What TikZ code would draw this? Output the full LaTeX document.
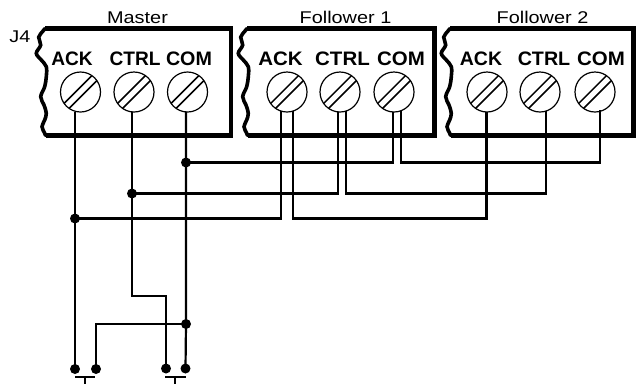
\documentclass[tikz,border=0pt]{standalone}
\usepackage{fontspec}
\setmainfont{Liberation Sans}
\usetikzlibrary{calc}
\begin{document}
\begin{tikzpicture}[x=1pt,y=-1pt,
  boxline/.style={line width=4.5pt, line join=miter},
  waveline/.style={line width=3.6pt, line cap=round},
  wire/.style={line width=2.2pt, line join=miter},
  screwc/.style={circle, draw, line width=1.2pt, minimum size=40pt, inner sep=0pt},
  slot/.style={line width=1.5pt},
  dot/.style={circle, fill, inner sep=0pt, minimum size=10pt},
  title/.style={font=\fontsize{17}{19}\selectfont, xscale=1.17, inner sep=0pt, anchor=base},
  lab/.style={font=\bfseries\fontsize{19.5}{21}\selectfont, inner sep=0pt, anchor=base},
]
\useasboundingbox (0,0) rectangle (636,384);

% ---------- boxes ----------
\foreach \xo/\xr in {46/231, 248/434.7, 451/633.7}{
  \draw[boxline] (\xo-1,28.5) -- (\xr,28.5) -- (\xr,135.5) -- (\xo-0.5,135.5);
  \draw[waveline] plot[smooth, tension=0.6] coordinates {
    (\xo-1,28.5) (\xo-3,31) (\xo-7.3,37.2) (\xo-5.3,45) (\xo-9.7,53.3) (\xo-4.7,60)
    (\xo+0.3,66.7) (\xo+0.3,76.7) (\xo-1.3,86.7) (\xo-5.3,96.7) (\xo-2,105)
    (\xo+0.3,113.3) (\xo-1.3,120) (\xo-4,126.7) (\xo-1.3,133.3) (\xo-0.5,135.5)};
}

% ---------- titles ----------
\node[title] (tj4) at (20,42) {J4};
\node[title] (tmaster) at (137.5,23) {Master};
\node[title] (tf1) at (345.5,23) {Follower 1};
\node[title] (tf2) at (542.5,23) {Follower 2};

% ---------- terminal labels ----------
\node[lab, xscale=0.98] (lmA) at (72,65.5) {ACK};
\node[lab, xscale=0.98] (lmC) at (135,65.5) {CTRL};
\node[lab, xscale=1.01] (lmM) at (189,65.5) {COM};
\node[lab, xscale=1.05] (l1A) at (280.5,65.5) {ACK};
\node[lab, xscale=1.05] (l1C) at (342.5,65.5) {CTRL};
\node[lab, xscale=1.05] (l1M) at (401,65.5) {COM};
\node[lab, xscale=1.0] (l2A) at (481,65.5) {ACK};
\node[lab, xscale=1.01] (l2C) at (544,65.5) {CTRL};
\node[lab, xscale=1.05] (l2M) at (601,65.5) {COM};

% ---------- screws ----------
\foreach \n/\x in {smA/80.5, smC/134, smM/187.5, s1A/287, s1C/340, s1M/394, s2A/487, s2C/540, s2M/595}{
  \node[screwc] (\n) at (\x,92) {};
  \draw[slot] ($(\n.center)+(16.4,-11.45)$) -- ($(\n.center)+(-11.45,16.4)$);
  \draw[slot] ($(\n.center)+(11.45,-16.4)$) -- ($(\n.center)+(-16.4,11.45)$);
}

% ---------- wire end points ----------
\coordinate (mA) at (75,111.5);
\coordinate (mC) at (132,111.5);
\coordinate (mM) at (186,111.5);
\coordinate (f1Aa) at (281,111);
\coordinate (f1Ab) at (293,111);
\coordinate (f1Ca) at (338,111.5);
\coordinate (f1Cb) at (346,111);
\coordinate (f1Ma) at (393,111.5);
\coordinate (f1Mb) at (401,111);
\coordinate (f2A) at (486.5,111.5);
\coordinate (f2C) at (546,110.5);
\coordinate (f2M) at (600,110);
\coordinate (kC) at (132,296);

% junction dots
\node[dot] (dM) at (186,162.5) {};
\node[dot] (dC) at (132,193.5) {};
\node[dot] (dA) at (75,218.5) {};
\node[dot] (dM2) at (186,324) {};
% bottom dots
\node[dot] (bA) at (75,369) {};
\node[dot] (bM2) at (96,369) {};
\node[dot] (bC) at (166,368.5) {};
\node[dot] (bM) at (185.5,368.5) {};

% ---------- wires ----------
% ACK
\draw[wire] (mA) -- (dA.center) -- (bA.center);
\draw[wire] (dA.center) -| (f1Aa);
\draw[wire] (f1Ab) -- (f1Ab |- dA) -| (f2A);
% CTRL
\draw[wire] (mC) -- (dC.center) -- (kC) -| (bC.center);
\draw[wire] (dC.center) -| (f1Ca);
\draw[wire] (f1Cb) -- (f1Cb |- dC) -| (f2C);
% COM
\draw[wire] (mM) -- (dM.center) -- (dM2.center) -- (bM.center);
\draw[wire] (dM2.center) -| (bM2.center);
\draw[wire] (dM.center) -| (f1Ma);
\draw[wire] (f1Mb) -- (f1Mb |- dM) -| (f2M);

% ---------- switch stubs ----------
\coordinate (t1l) at (75,377); \coordinate (t1r) at (95,377);
\coordinate (t1m) at (85,377); \coordinate (t1b) at (85,384);
\coordinate (t2l) at (165,377); \coordinate (t2r) at (186,377);
\coordinate (t2m) at (175,377); \coordinate (t2b) at (175,384);
\draw[wire] (t1l) -- (t1r);
\draw[wire] (t1m) -- (t1b);
\draw[wire] (t2l) -- (t2r);
\draw[wire] (t2m) -- (t2b);
\end{tikzpicture}
\end{document}
